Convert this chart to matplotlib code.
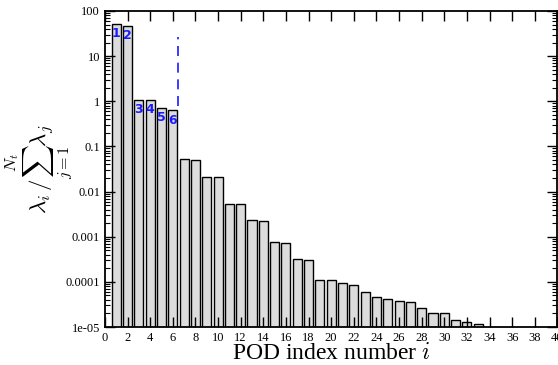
import numpy as np
import matplotlib
matplotlib.use('Agg')
import matplotlib.pyplot as plt
from matplotlib.ticker import LogLocator, NullFormatter

# POD eigenvalue ratios (percent)
modes = list(range(1, 34))
ratio = [51.5, 47.3, 1.07, 1.05, 0.70, 0.63, 0.052, 0.050, 0.0214, 0.0214,
         0.0053, 0.0052, 0.00231, 0.00220, 0.00075, 0.00073, 0.000316, 0.00031,
         0.000108, 0.000108, 9.3e-05, 8.4e-05, 5.95e-05, 4.7e-05, 4.24e-05,
         3.77e-05, 3.57e-05, 2.68e-05, 2.04e-05, 2.04e-05, 1.43e-05, 1.29e-05,
         1.14e-05]
labelled = [1, 2, 3, 4, 5, 6]
cut_x = 6.45
cut_range = [0.8, 27]

ytick_vals = [1e-05, 1e-04, 1e-03, 1e-02, 1e-01, 1, 10, 100]
ytick_text = ['1e-05', '0.0001', '0.001', '0.01', '0.1', '1', '10', '100']
xtick_vals = list(range(0, 41, 2))

plt.rcParams['font.family'] = ['Liberation Serif', 'DejaVu Serif']
plt.rcParams['mathtext.fontset'] = 'cm'

fig = plt.figure(figsize=(5.58, 3.65), dpi=100)
ax = fig.add_axes([0.188, 0.104, 0.811, 0.866])

ax.bar(modes, ratio, width=0.8, color='#dcdcdc', edgecolor='black', linewidth=1.0)

for i in labelled:
    ax.text(i, ratio[i - 1] * 0.85, str(i), color='#1a1aff', fontweight='bold',
            fontsize=9, ha='center', va='top', family='DejaVu Sans')

ax.plot([cut_x, cut_x], cut_range, color='#1a1aff', linestyle=(0, (6, 4)), linewidth=1.2)

ax.set_yscale('log')
ax.set_ylim(1e-05, 100)
ax.set_xlim(0, 40)
ax.set_yticks(ytick_vals)
ax.set_yticklabels(ytick_text)
ax.yaxis.set_minor_locator(LogLocator(base=10, subs=np.arange(2, 10)))
ax.yaxis.set_minor_formatter(NullFormatter())
ax.set_xticks(xtick_vals)

ax.tick_params(which='both', direction='in', top=True, right=True, labelsize=9)
ax.tick_params(which='major', length=7, width=1.0)
ax.tick_params(which='minor', length=3.5, width=0.8)
for s in ax.spines.values():
    s.set_linewidth(1.3)

ax.set_xlabel('POD index number $i$', fontsize=17, labelpad=-1)
ax.set_ylabel(r'$\lambda_i\,/\sum_{j=1}^{N_t}\lambda_j$', fontsize=16.5)
ax.yaxis.set_label_coords(-0.064, 0.5)

fig.savefig('out.png', dpi=100)
